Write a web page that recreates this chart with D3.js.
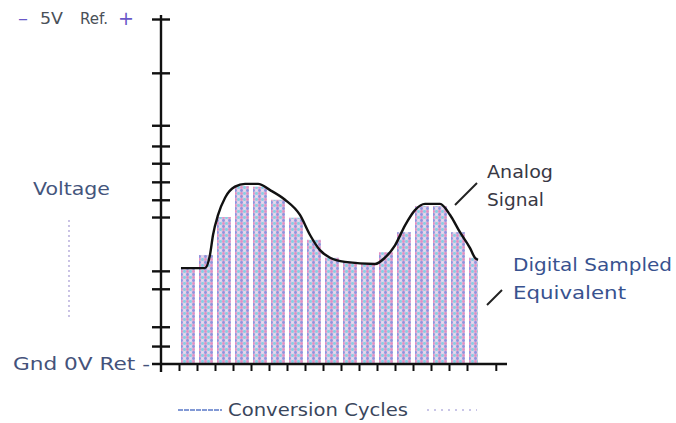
<!DOCTYPE html>
<html>
<head>
<meta charset="utf-8">
<script src="https://cdn.jsdelivr.net/npm/d3@7"></script>
<style>
  body { margin: 0; background: #fff; }
  text { font-family: "DejaVu Sans", sans-serif; }
</style>
</head>
<body>
<div id="chart"></div>
<script>
// sample index (conversion cycle) and the held voltage of each sample
var sampleCycles = [0, 1, 2, 3, 4, 5, 6, 7, 8, 9, 10, 11, 12, 13, 14, 15, 16];
var sampleVolts = [1.39, 1.58, 2.13, 2.58, 2.57, 2.38, 2.12, 1.80, 1.54, 1.48, 1.45, 1.62, 1.91, 2.29, 2.29, 1.91, 1.54];

// analog signal
var signalCycles = [0.11, 1.44, 1.72, 1.89, 2.17, 2.56, 3.11, 3.67, 4.39, 5.06, 5.89, 6.72, 7.28, 7.83, 8.39, 9.22, 10.89, 11.44, 12.0, 12.56, 13.11, 13.67, 14.5, 15.06, 15.61, 16.17, 16.44, 16.61];
var signalVolts = [1.39, 1.39, 1.58, 1.87, 2.16, 2.41, 2.57, 2.61, 2.61, 2.52, 2.38, 2.16, 1.87, 1.65, 1.54, 1.48, 1.45, 1.54, 1.72, 2.01, 2.23, 2.32, 2.32, 2.16, 1.91, 1.68, 1.54, 1.51];

// tick marks (hand drawn, uneven)
var voltTicks = [0.26, 0.54, 1.09, 1.35, 2.13, 2.38, 2.64, 2.91, 3.16, 3.46, 4.22, 5];
var cycleTicks = [0, 1, 2, 3, 4, 5, 6, 7, 8, 9, 10, 11, 12, 13, 14, 15, 16, 17.6];

var svg = d3.select("#chart").append("svg")
    .attr("width", 676)
    .attr("height", 423);

var x = d3.scaleLinear().domain([-1, 18.5]).range([161, 512]);
var y = d3.scaleLinear().domain([0, 5]).range([364, 19]);

// dithered fill for the sampled bars
var pat = svg.append("defs").append("pattern")
    .attr("id", "dots")
    .attr("patternUnits", "userSpaceOnUse")
    .attr("width", 6).attr("height", 6);
pat.append("rect").attr("width", 6).attr("height", 6).attr("fill", "#d2cbe4");
[[1.5, 1.5, "#e391c4"], [4.5, 1.5, "#86cfe4"], [1.5, 4.5, "#8f93de"], [4.5, 4.5, "#e8d6ee"]].forEach(function(d) {
  pat.append("circle").attr("cx", d[0]).attr("cy", d[1]).attr("r", 1.4).attr("fill", d[2]);
});

var lastCycle = signalCycles[signalCycles.length - 1];

// bars
svg.selectAll("rect.bar")
    .data(sampleCycles)
    .enter()
    .append("rect")
    .attr("class", "bar")
    .attr("x", (d, i) => i == 0 ? x(signalCycles[0]) : x(d) + 2)
    .attr("y", (d, i) => y(sampleVolts[i]))
    .attr("width", (d, i) => {
      var x0 = i == 0 ? x(signalCycles[0]) : x(d) + 2;
      var x1 = Math.min(x(d + 1) - 2, x(lastCycle));
      return x1 - x0;
    })
    .attr("height", (d, i) => y(0) - y(sampleVolts[i]))
    .attr("fill", "url(#dots)");

// analog signal
var line = d3.line()
    .x((d, i) => x(signalCycles[i]))
    .y((d, i) => y(signalVolts[i]))
    .curve(d3.curveMonotoneX);

svg.append("path")
    .datum(signalVolts)
    .attr("d", line)
    .attr("fill", "none")
    .attr("stroke", "#111")
    .attr("stroke-width", 2.4);

// y axis, ticks crossing the line
var yAxis = d3.axisLeft(y).tickValues(voltTicks).tickSize(9).tickFormat("");
var gy = svg.append("g").attr("transform", "translate(161,0)").call(yAxis);
gy.select(".domain").remove();
gy.selectAll(".tick line").attr("x1", 9).attr("stroke", "#111").attr("stroke-width", 2.4);
svg.append("line")
    .attr("x1", 161).attr("x2", 161)
    .attr("y1", 15).attr("y2", 372)
    .attr("stroke", "#111").attr("stroke-width", 2.4);

// x axis
var xAxis = d3.axisBottom(x).tickValues(cycleTicks).tickSize(7).tickFormat("");
var gx = svg.append("g").attr("transform", "translate(0,364)").call(xAxis);
gx.select(".domain").remove();
gx.selectAll(".tick line").attr("stroke", "#111").attr("stroke-width", 2);
svg.append("line")
    .attr("x1", 152).attr("x2", 507)
    .attr("y1", 364).attr("y2", 364)
    .attr("stroke", "#111").attr("stroke-width", 2.4);

// helper for the wide, round lettering of the original
function label(tx, ty, str, len, size, color) {
  return svg.append("text")
      .attr("x", tx).attr("y", ty)
      .attr("textLength", len)
      .attr("lengthAdjust", "spacingAndGlyphs")
      .style("font-size", size + "px")
      .attr("fill", color)
      .text(str);
}

// top label
label(18, 24, "–", 10, 17, "#6a58c8");
label(40, 24, "5V", 23, 16, "#4a5058");
label(80, 24, "Ref.", 28, 16, "#4a5058");
label(118, 25, "+", 16, 19, "#6a58c8");

// y label
label(33, 195, "Voltage", 77, 17, "#44557c");
svg.append("line")
    .attr("x1", 69).attr("x2", 69)
    .attr("y1", 220).attr("y2", 320)
    .attr("stroke", "#b8aedc").attr("stroke-width", 1.5)
    .attr("stroke-dasharray", "2,3");

label(13, 370, "Gnd 0V Ret -", 137, 17, "#44527a");

// x label
svg.append("line")
    .attr("x1", 178).attr("x2", 222)
    .attr("y1", 410).attr("y2", 410)
    .attr("stroke", "#5a78c8").attr("stroke-width", 1.5)
    .attr("stroke-dasharray", "5,1");
label(228, 416, "Conversion Cycles", 180, 17, "#3a465c");
svg.append("line")
    .attr("x1", 427).attr("x2", 477)
    .attr("y1", 410).attr("y2", 410)
    .attr("stroke", "#b8b4e0").attr("stroke-width", 1.5)
    .attr("stroke-dasharray", "2,5");

// annotations
label(487, 178, "Analog", 66, 17, "#383844");
label(487, 206, "Signal", 57, 17, "#383844");
svg.append("line")
    .attr("x1", 455).attr("y1", 205).attr("x2", 477).attr("y2", 183)
    .attr("stroke", "#222").attr("stroke-width", 2);

label(513, 271, "Digital Sampled", 159, 17, "#38528f");
label(513, 299, "Equivalent", 113, 17, "#38528f");
svg.append("line")
    .attr("x1", 487).attr("y1", 305).attr("x2", 502).attr("y2", 290)
    .attr("stroke", "#222").attr("stroke-width", 2);
</script>
</body>
</html>
